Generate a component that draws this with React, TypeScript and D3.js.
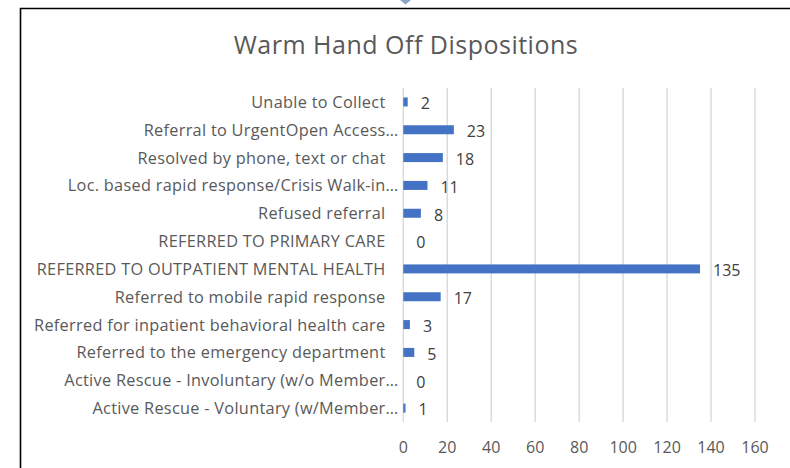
import React from "react";
import * as d3 from "d3";

const categories = [
  "Unable to Collect",
  "Referral to UrgentOpen Access…",
  "Resolved by phone, text or chat",
  "Loc. based rapid response/Crisis Walk-in…",
  "Refused referral",
  "REFERRED TO PRIMARY CARE",
  "REFERRED TO OUTPATIENT MENTAL HEALTH",
  "Referred to mobile rapid response",
  "Referred for inpatient behavioral health care",
  "Referred to the emergency department",
  "Active Rescue - Involuntary (w/o Member…",
  "Active Rescue - Voluntary (w/Member…",
];
const values = [2, 23, 18, 11, 8, 0, 135, 17, 3, 5, 0, 1];
const xTicks = [0, 20, 40, 60, 80, 100, 120, 140, 160];
const title = "Warm Hand Off Dispositions";

const W = 790;
const H = 468;
const FONT = "'Open Sans', sans-serif";

export default function App() {
  const x = d3.scaleLinear().domain([0, 160]).range([403.3, 755]);
  const y = d3.scaleBand<string>().domain(categories).range([88, 422]);
  const barH = 9;
  return (
    <svg
      width={W}
      height={H}
      style={{ position: "absolute", left: 0, top: 0, background: "#fff" }}
      fontFamily={FONT}
    >
      <rect x={0} y={0} width={W} height={H} fill="#fff" />
      <path d="M20.5,468 L20.5,8.5 L790,8.5" fill="none" stroke="#000" strokeWidth={1.6} />
      <path d="M400,0 L411,0 L405.5,4.5 Z" fill="#8FA3C4" />
      <text x={406} y={53.5} textAnchor="middle" fontSize={25} letterSpacing={0.5} fill="#595959">
        {title}
      </text>
      {xTicks.map((t) => (
        <g key={t}>
          <line x1={x(t)} x2={x(t)} y1={88} y2={422} stroke="#d9d9d9" strokeWidth={1.4} />
          <text x={x(t)} y={452.5} textAnchor="middle" fontSize={16} fill="#595959">
            {t}
          </text>
        </g>
      ))}
      {categories.map((c, i) => {
        const cy = (y(c) as number) + y.bandwidth() / 2;
        const trunc = c.endsWith("…");
        return (
          <g key={c}>
            <text
              x={trunc ? 398.5 : 385.5}
              y={cy + 6}
              textAnchor="end"
              fontSize={16.3}
              letterSpacing={0.3}
              fill="#595959"
            >
              {c}
            </text>
            <rect
              x={x(0)}
              y={cy - barH / 2}
              width={x(values[i]) - x(0)}
              height={barH}
              fill="#4472C4"
            />
            <text x={x(values[i]) + 13} y={cy + 7.3} fontSize={16} fill="#404040">
              {values[i]}
            </text>
          </g>
        );
      })}
    </svg>
  );
}
